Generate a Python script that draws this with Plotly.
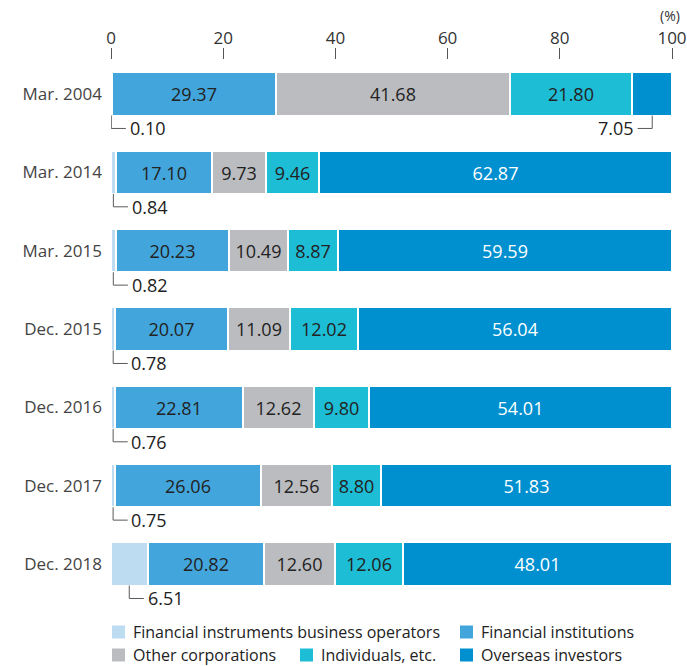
import plotly.graph_objects as go

# Shareholding ratio by type of shareholder (%)
periods = ["Mar. 2004", "Mar. 2014", "Mar. 2015", "Dec. 2015", "Dec. 2016", "Dec. 2017", "Dec. 2018"]
fin_instr_operators = [0.10, 0.84, 0.82, 0.78, 0.76, 0.75, 6.51]
fin_institutions = [29.37, 17.10, 20.23, 20.07, 22.81, 26.06, 20.82]
other_corporations = [41.68, 9.73, 10.49, 11.09, 12.62, 12.56, 12.60]
individuals = [21.80, 9.46, 8.87, 12.02, 9.80, 8.80, 12.06]
overseas = [7.05, 62.87, 59.59, 56.04, 54.01, 51.83, 48.01]
x_ticks = [0, 20, 40, 60, 80, 100]

series = [
    ("Financial instruments business operators", fin_instr_operators, "#bddbf1", "#222222"),
    ("Financial institutions", fin_institutions, "#42a6dc", "#222222"),
    ("Other corporations", other_corporations, "#bbbcbf", "#222222"),
    ("Individuals, etc.", individuals, "#1ebdd6", "#222222"),
    ("Overseas investors", overseas, "#0090d0", "#ffffff"),
]

FONT = "Open Sans"
BAR_W = 0.55
SMALL = 7.5          # segments below this get an outside label with a leader line
rows = list(range(len(periods)))


def font(size, color):
    return dict(family=FONT, size=size, color=color)


fig = go.Figure()
leaders = []
cum = [0.0] * len(periods)
for si, (name, vals, color, tcolor) in enumerate(series):
    texts = []
    for i, v in enumerate(vals):
        if si == 0 or v < SMALL:
            texts.append("")
            leaders.append((i, cum[i] + v / 2, v))
        else:
            texts.append(f"{v:.2f}")
        cum[i] += v
    fig.add_trace(go.Bar(
        name=name, x=vals, y=rows, orientation="h", width=BAR_W,
        marker=dict(color=color, line=dict(color="white", width=2)),
        text=texts, textposition="inside", insidetextanchor="middle",
        textangle=0, constraintext="none",
        textfont=font(18, tcolor),
        hoverinfo="skip", showlegend=False,
    ))

# leader lines for narrow segments
LINE_COL = "#5a5a5a"
for i, xm, v in leaders:
    y0 = i + BAR_W / 2
    y1 = i + 0.44
    d = 2.6 if xm < 50 else -2.6
    fig.add_shape(type="line", x0=xm, x1=xm, y0=y0, y1=y1, xref="x", yref="y",
                  line=dict(color=LINE_COL, width=1))
    fig.add_shape(type="line", x0=xm, x1=xm + d, y0=y1, y1=y1, xref="x", yref="y",
                  line=dict(color=LINE_COL, width=1))
    fig.add_annotation(x=xm + d + (0.3 if d > 0 else -0.3), y=y1, xref="x", yref="y",
                       text=f"{v:.2f}", showarrow=False,
                       xanchor="left" if d > 0 else "right", yanchor="middle",
                       font=font(18, "#222222"))

W, H = 687, 666
ML, MR, MT, MB = 111, 15, 60, 51
pw, ph = W - ML - MR, H - MT - MB


def px_x(p):
    return (p - ML) / pw


def px_y(p):
    return (H - MB - p) / ph


fig.add_annotation(x=px_x(670), y=px_y(16), xref="paper", yref="paper", text="(%)",
                   showarrow=False, xanchor="center", yanchor="middle",
                   font=font(14, "#333333"))

# legend
legend_pos = [(112, 632), (460, 632), (112, 655), (300, 655), (460, 655)]
for (name, _, color, _), (lx, ly) in zip(series, legend_pos):
    fig.add_shape(type="rect", xref="paper", yref="paper",
                  x0=px_x(lx), x1=px_x(lx + 13), y0=px_y(ly - 6.5), y1=px_y(ly + 6.5),
                  fillcolor=color, line=dict(width=0))
    fig.add_annotation(x=px_x(lx + 19), y=px_y(ly), xref="paper", yref="paper",
                       text=name, showarrow=False, xanchor="left", yanchor="middle",
                       font=font(16, "#222222"))

fig.update_layout(
    width=W, height=H, barmode="stack", bargap=0,
    margin=dict(l=ML, r=MR, t=MT, b=MB, autoexpand=False),
    paper_bgcolor="white", plot_bgcolor="white",
    font=dict(family=FONT),
    xaxis=dict(side="top", range=[0, 100], tickvals=x_ticks, ticks="outside",
               ticklen=11, tickcolor="#555555", tickwidth=1, showgrid=False,
               zeroline=False, showline=False, automargin=False,
               ticklabelstandoff=-3,
               tickfont=font(17, "#333333")),
    yaxis=dict(range=[6.651, -0.434], tickvals=rows, ticktext=periods, ticks="",
               showgrid=False, zeroline=False, showline=False, ticklabelstandoff=8,
               automargin=False,
               tickfont=font(17, "#444444")),
)

fig.write_html("out.html")
